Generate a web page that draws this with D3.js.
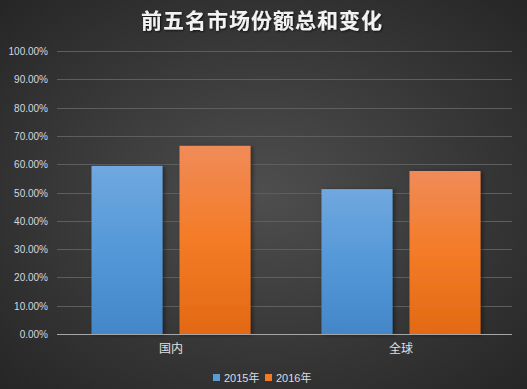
<!DOCTYPE html>
<html lang="zh">
<head>
<meta charset="utf-8">
<title>前五名市场份额总和变化</title>
<style>
body { margin: 0; background: #333; }
svg { display: block; }
.tick-label { font-family: "Liberation Sans", Arial, sans-serif; font-size: 10px; fill: #d4d8e0; text-anchor: end; }
.cat-label { font-family: "Noto Sans CJK SC", sans-serif; font-size: 12px; fill: #e0e0e0; text-anchor: middle; }
.legend-label { font-family: "Liberation Sans", "Noto Sans CJK SC", sans-serif; font-size: 11px; fill: #d9dde4; }
.title { font-family: "Noto Sans CJK SC", sans-serif; font-size: 21px; font-weight: bold; fill: #f2f2f2; text-anchor: middle; letter-spacing: 1px; }
</style>
</head>
<body>
<div id="chart"></div>
<script src="https://cdn.jsdelivr.net/npm/d3@7"></script>
<script>
var categories = ["国内", "全球"];
var seriesNames = ["2015年", "2016年"];
var values2015 = [0.594, 0.512];
var values2016 = [0.665, 0.576];
var yTicks = [0, 0.1, 0.2, 0.3, 0.4, 0.5, 0.6, 0.7, 0.8, 0.9, 1.0];

var width = 527, height = 389;
var plot = { left: 57, right: 512, top: 51, bottom: 334 };

var svg = d3.select("#chart").append("svg")
	.attr("width", width)
	.attr("height", height);

var defs = svg.append("defs");

var bg = defs.append("radialGradient").attr("id", "bg")
	.attr("cx", "50%").attr("cy", "50%").attr("r", "70%");
bg.append("stop").attr("offset", "0%").attr("stop-color", "#4e4e4e");
bg.append("stop").attr("offset", "100%").attr("stop-color", "#262626");

var blue = defs.append("linearGradient").attr("id", "blue")
	.attr("x1", 0).attr("y1", 0).attr("x2", 0).attr("y2", 1);
blue.append("stop").attr("offset", "0%").attr("stop-color", "#70a8df");
blue.append("stop").attr("offset", "50%").attr("stop-color", "#5498d8");
blue.append("stop").attr("offset", "100%").attr("stop-color", "#4387c8");

var orange = defs.append("linearGradient").attr("id", "orange")
	.attr("x1", 0).attr("y1", 0).attr("x2", 0).attr("y2", 1);
orange.append("stop").attr("offset", "0%").attr("stop-color", "#f08b59");
orange.append("stop").attr("offset", "50%").attr("stop-color", "#f47b26");
orange.append("stop").attr("offset", "100%").attr("stop-color", "#e36914");

var shadow = defs.append("filter").attr("id", "shadow")
	.attr("x", "-20%").attr("y", "-20%").attr("width", "150%").attr("height", "150%");
shadow.append("feDropShadow")
	.attr("dx", 2).attr("dy", 1).attr("stdDeviation", 2)
	.attr("flood-color", "#000").attr("flood-opacity", 0.45);

var titleShadow = defs.append("filter").attr("id", "tshadow");
titleShadow.append("feDropShadow")
	.attr("dx", 1).attr("dy", 1).attr("stdDeviation", 1)
	.attr("flood-color", "#000").attr("flood-opacity", 0.7);

svg.append("rect")
	.attr("width", width).attr("height", height)
	.attr("fill", "url(#bg)");

svg.append("text")
	.attr("class", "title")
	.attr("x", 262).attr("y", 28)
	.attr("filter", "url(#tshadow)")
	.text("前五名市场份额总和变化");

var y = d3.scaleLinear().domain([0, 1]).range([plot.bottom, plot.top]);

var x0 = d3.scaleBand().domain(categories).range([56, 516]);
var groupPad = (x0.bandwidth() - 159) / 2;
var x1 = d3.scaleBand().domain(seriesNames)
	.range([groupPad, groupPad + 159])
	.paddingInner(17 / 88);

// gridlines
svg.append("g").selectAll("line")
	.data(yTicks.filter(function(d) { return d > 0; }))
	.join("line")
	.attr("x1", plot.left).attr("x2", plot.right)
	.attr("y1", function(d) { return Math.round(y(d)) + 0.5; })
	.attr("y2", function(d) { return Math.round(y(d)) + 0.5; })
	.attr("stroke", "#5e5e5e").attr("stroke-width", 1);

svg.append("g").selectAll("text")
	.data(yTicks)
	.join("text")
	.attr("class", "tick-label")
	.attr("x", 48)
	.attr("y", function(d) { return y(d) + 4; })
	.text(function(d) { return d3.format(".2%")(d); });

var rows = categories.map(function(c, i) {
	return { cat: c, vals: [values2015[i], values2016[i]] };
});
var fills = ["url(#blue)", "url(#orange)"];

var groups = svg.append("g").selectAll("g")
	.data(rows)
	.join("g")
	.attr("transform", function(d) { return "translate(" + x0(d.cat) + ",0)"; });

groups.selectAll("rect")
	.data(function(d) { return d.vals.map(function(v, j) { return { s: seriesNames[j], v: v, j: j }; }); })
	.join("rect")
	.attr("x", function(d) { return x1(d.s); })
	.attr("width", x1.bandwidth())
	.attr("y", function(d) { return y(d.v); })
	.attr("height", function(d) { return plot.bottom - y(d.v); })
	.attr("fill", function(d) { return fills[d.j]; })
	.attr("filter", "url(#shadow)");

// axis line
svg.append("line")
	.attr("x1", plot.left).attr("x2", plot.right)
	.attr("y1", plot.bottom + 0.5).attr("y2", plot.bottom + 0.5)
	.attr("stroke", "#a6a6a6").attr("stroke-width", 1);

svg.append("g").selectAll("text")
	.data(categories)
	.join("text")
	.attr("class", "cat-label")
	.attr("x", function(d) { return x0(d) + groupPad + 159 / 2; })
	.attr("y", 353)
	.text(function(d) { return d; });

// legend
var legendX = [213, 265];
var legend = svg.append("g").selectAll("g")
	.data(seriesNames)
	.join("g")
	.attr("transform", function(d, i) { return "translate(" + legendX[i] + ",374)"; });
legend.append("rect")
	.attr("width", 7).attr("height", 7)
	.attr("fill", function(d, i) { return i === 0 ? "#5b9bd5" : "#f47b20"; });
legend.append("text")
	.attr("class", "legend-label")
	.attr("x", 11).attr("y", 8)
	.text(function(d) { return d; });
</script>
</body>
</html>
